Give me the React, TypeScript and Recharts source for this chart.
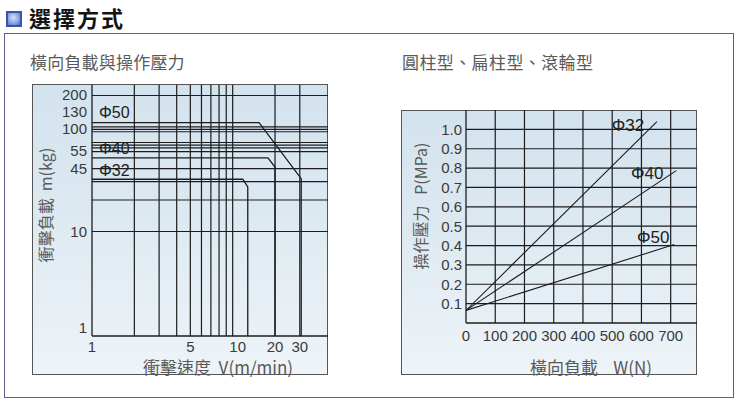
import React from "react";
import { LineChart, Line, XAxis, YAxis, ReferenceLine } from "recharts";

const FONT = "'Liberation Sans', Arial, sans-serif";
const CJK = "'Noto Sans CJK TC', 'Noto Sans CJK SC', sans-serif";

// 衝擊速度 V(m/min) vs 衝擊負載 m(kg), log-log
const speedTicks = [1, 5, 10, 20, 30];
const speedGrid = [2, 3, 4, 5, 6, 7, 8, 9, 10, 20, 30];
const massTicks = [1, 10, 45, 55, 100, 130, 200];
const massGrid = [10, 20, 30, 40, 58, 63, 67, 71, 90, 95, 100, 200];

const impact50 = [
  { v: 1, m: 110 },
  { v: 15.4, m: 110 },
  { v: 30.7, m: 32 },
  { v: 30.7, m: 1 },
];
const impact40 = [
  { v: 1, m: 50.5 },
  { v: 17.8, m: 50.5 },
  { v: 20, m: 41.4 },
  { v: 20, m: 1 },
];
const impact32 = [
  { v: 1, m: 31.6 },
  { v: 11.8, m: 31.6 },
  { v: 12.8, m: 26.7 },
  { v: 12.8, m: 1 },
];

// 橫向負載 W(N) vs 操作壓力 P(MPa)
const loadTicks = [0, 100, 200, 300, 400, 500, 600, 700];
const pressureTicks = [0.1, 0.2, 0.3, 0.4, 0.5, 0.6, 0.7, 0.8, 0.9, 1.0];
const press32 = [
  { w: 0, p: 0.065 },
  { w: 653, p: 1.04 },
];
const press40 = [
  { w: 0, p: 0.065 },
  { w: 719, p: 0.787 },
];
const press50 = [
  { w: 0, p: 0.065 },
  { w: 712, p: 0.405 },
];

const INK = "#1c1c1c";
const TICK = "#3a3a3a";

// the printed chart sets a few tick labels slightly off their lines
const massNudge: Record<number, number> = { 200: -1, 130: -3, 100: 2, 55: -3, 45: 5, 1: -8 };
const speedNudge: Record<number, number> = { 10: 5 };

const MassTick = (props: any) => {
  const { x, y, payload } = props;
  return (
    <text
      x={x}
      y={y + (massNudge[payload.value] ?? 0)}
      dy="0.355em"
      textAnchor="end"
      fill={TICK}
      fontSize={15}
      fontFamily={FONT}
    >
      {payload.value}
    </text>
  );
};

const SpeedTick = (props: any) => {
  const { x, y, payload } = props;
  return (
    <text
      x={x + (speedNudge[payload.value] ?? 0)}
      y={y}
      dy="0.71em"
      textAnchor="middle"
      fill={TICK}
      fontSize={15}
      fontFamily={FONT}
    >
      {payload.value}
    </text>
  );
};

const pointLabel =
  (text: string, at: number, dx: number, dy: number, size: number, anchor: string) =>
  (props: any) => {
    if (props.index !== at) return null;
    const x = props.x ?? props.viewBox?.x;
    const y = props.y ?? props.viewBox?.y;
    return (
      <text
        x={x + dx}
        y={y + dy}
        fontSize={size}
        fill="#222"
        fontFamily={FONT}
        textAnchor={anchor}
        dominantBaseline="central"
      >
        {text}
      </text>
    );
  };

const panelStyle = (left: number, top: number, width: number, height: number): React.CSSProperties => ({
  position: "absolute",
  left,
  top,
  width,
  height,
  boxSizing: "border-box",
  border: "1px solid #555",
  background: "linear-gradient(#d3e3ee 0%, #dde9f1 45%, #eef4f8 100%)",
});

const text = (
  left: number,
  top: number,
  size: number,
  extra: React.CSSProperties = {}
): React.CSSProperties => ({
  position: "absolute",
  left,
  top,
  fontSize: size,
  fontFamily: CJK,
  color: "#5a5a5a",
  whiteSpace: "nowrap",
  lineHeight: 1,
  ...extra,
});

const ImpactChart = () => (
  <div style={panelStyle(32, 84, 296, 291)}>
    <div style={{ position: "absolute", left: -1, top: -1 }}>
      <LineChart width={296} height={291} margin={{ top: 1, right: 0, bottom: 0, left: 0 }}>
        <XAxis
          type="number"
          dataKey="v"
          scale="log"
          domain={[1, 47.6]}
          allowDataOverflow
          ticks={speedTicks}
          height={39}
          tickSize={0}
          tickMargin={5}
          tickLine={false}
          axisLine={{ stroke: INK, strokeWidth: 1.3 }}
          tick={<SpeedTick />}
          interval={0}
        />
        <YAxis
          type="number"
          dataKey="m"
          scale="log"
          domain={[1, 252]}
          allowDataOverflow
          ticks={massTicks}
          width={60}
          tickSize={0}
          tickMargin={5}
          tickLine={false}
          axisLine={{ stroke: INK, strokeWidth: 1.3 }}
          tick={<MassTick />}
          interval={0}
        />
        {speedGrid.map((v) => (
          <ReferenceLine key={`vx${v}`} x={v} stroke={INK} strokeWidth={1.2} />
        ))}
        {massGrid.map((m) => (
          <ReferenceLine key={`hy${m}`} y={m} stroke={INK} strokeWidth={1.2} />
        ))}
        <Line
          data={impact50}
          dataKey="m"
          type="linear"
          stroke={INK}
          strokeWidth={1.3}
          dot={false}
          isAnimationActive={false}
          label={pointLabel("Φ50", 0, 7, -10, 16, "start")}
        />
        <Line
          data={impact40}
          dataKey="m"
          type="linear"
          stroke={INK}
          strokeWidth={1.3}
          dot={false}
          isAnimationActive={false}
          label={pointLabel("Φ40", 0, 7, -9, 16, "start")}
        />
        <Line
          data={impact32}
          dataKey="m"
          type="linear"
          stroke={INK}
          strokeWidth={1.3}
          dot={false}
          isAnimationActive={false}
          label={pointLabel("Φ32", 0, 7, -9, 16, "start")}
        />
      </LineChart>
    </div>
  </div>
);

const PressureChart = () => (
  <div style={panelStyle(401, 110, 296, 265)}>
    <div style={{ position: "absolute", left: -1, top: -1 }}>
      <LineChart width={296} height={265} margin={{ top: 0, right: 0, bottom: 0, left: 0 }}>
        <XAxis
          type="number"
          dataKey="w"
          domain={[0, 790]}
          allowDataOverflow
          ticks={loadTicks}
          height={52}
          tickSize={0}
          tickMargin={7}
          tickLine={false}
          axisLine={{ stroke: INK, strokeWidth: 1.3 }}
          tick={{ fill: TICK, fontSize: 15, fontFamily: FONT }}
          interval={0}
        />
        <YAxis
          type="number"
          dataKey="p"
          domain={[0, 1.1]}
          allowDataOverflow
          ticks={pressureTicks}
          tickFormatter={(v: number) => v.toFixed(1)}
          width={65}
          tickSize={0}
          tickMargin={4}
          tickLine={false}
          axisLine={{ stroke: INK, strokeWidth: 1.3 }}
          tick={{ fill: TICK, fontSize: 15, fontFamily: FONT }}
          interval={0}
        />
        {loadTicks
          .filter((w) => w > 0)
          .map((w) => (
            <ReferenceLine key={`vx${w}`} x={w} stroke={INK} strokeWidth={1.2} />
          ))}
        {pressureTicks.map((p) => (
          <ReferenceLine key={`hy${p}`} y={p} stroke={INK} strokeWidth={1.2} />
        ))}
        <Line
          data={press32}
          dataKey="p"
          type="linear"
          stroke={INK}
          strokeWidth={1.1}
          dot={false}
          isAnimationActive={false}
          label={pointLabel("Φ32", 1, -29, 4, 17, "middle")}
        />
        <Line
          data={press40}
          dataKey="p"
          type="linear"
          stroke={INK}
          strokeWidth={1.1}
          dot={false}
          isAnimationActive={false}
          label={pointLabel("Φ40", 1, -29, 3, 17, "middle")}
        />
        <Line
          data={press50}
          dataKey="p"
          type="linear"
          stroke={INK}
          strokeWidth={1.1}
          dot={false}
          isAnimationActive={false}
          label={pointLabel("Φ50", 1, -21, -7, 17, "middle")}
        />
      </LineChart>
    </div>
  </div>
);

const RotatedLabel = ({ cx, cy, size, children }: { cx: number; cy: number; size: number; children: React.ReactNode }) => (
  <div
    style={{
      position: "absolute",
      left: cx - 100,
      top: cy - size / 2,
      width: 200,
      height: size,
      lineHeight: `${size}px`,
      textAlign: "center",
      transform: "rotate(-90deg)",
      transformOrigin: "50% 50%",
      fontSize: size,
      fontFamily: CJK,
      color: "#5a5a5a",
      whiteSpace: "nowrap",
    }}
  >
    {children}
  </div>
);

export default function App() {
  return (
    <div
      style={{
        position: "absolute",
        left: 0,
        top: 0,
        width: 741,
        height: 407,
        background: "#fff",
        overflow: "hidden",
      }}
    >
      {/* heading */}
      <div
        style={{
          position: "absolute",
          left: 6,
          top: 11,
          width: 16,
          height: 16,
          boxSizing: "border-box",
          border: "2px solid #3d53a6",
          background: "radial-gradient(circle at 45% 40%, #d6e2fb 0%, #8aa6e6 55%, #4e68c2 100%)",
        }}
      />
      <div
        style={text(29, 6, 22, {
          fontWeight: 700,
          color: "#141414",
          letterSpacing: 2,
        })}
      >
        選擇方式
      </div>

      {/* outer frame */}
      <div
        style={{
          position: "absolute",
          left: 4,
          top: 33,
          width: 730,
          height: 365,
          boxSizing: "border-box",
          border: "1.5px solid #5b5d8c",
        }}
      />

      <div style={text(30, 53, 17, { letterSpacing: 0.2 })}>橫向負載與操作壓力</div>
      <div style={text(402, 53, 17, { letterSpacing: 0.4 })}>圓柱型、扁柱型、滾輪型</div>

      <ImpactChart />
      <PressureChart />

      <RotatedLabel cx={45} cy={205} size={16}>
        衝擊負載&nbsp;&nbsp;m(kg)
      </RotatedLabel>
      <RotatedLabel cx={420} cy={206} size={16}>
        操作壓力&nbsp;&nbsp;&nbsp;P(MPa)
      </RotatedLabel>

      <div style={text(143, 358, 17)}>衝擊速度&nbsp;&nbsp;V(m/min)</div>
      <div style={text(530, 358, 17)}>橫向負載&nbsp;&nbsp;&nbsp;&nbsp;W(N)</div>
    </div>
  );
}
